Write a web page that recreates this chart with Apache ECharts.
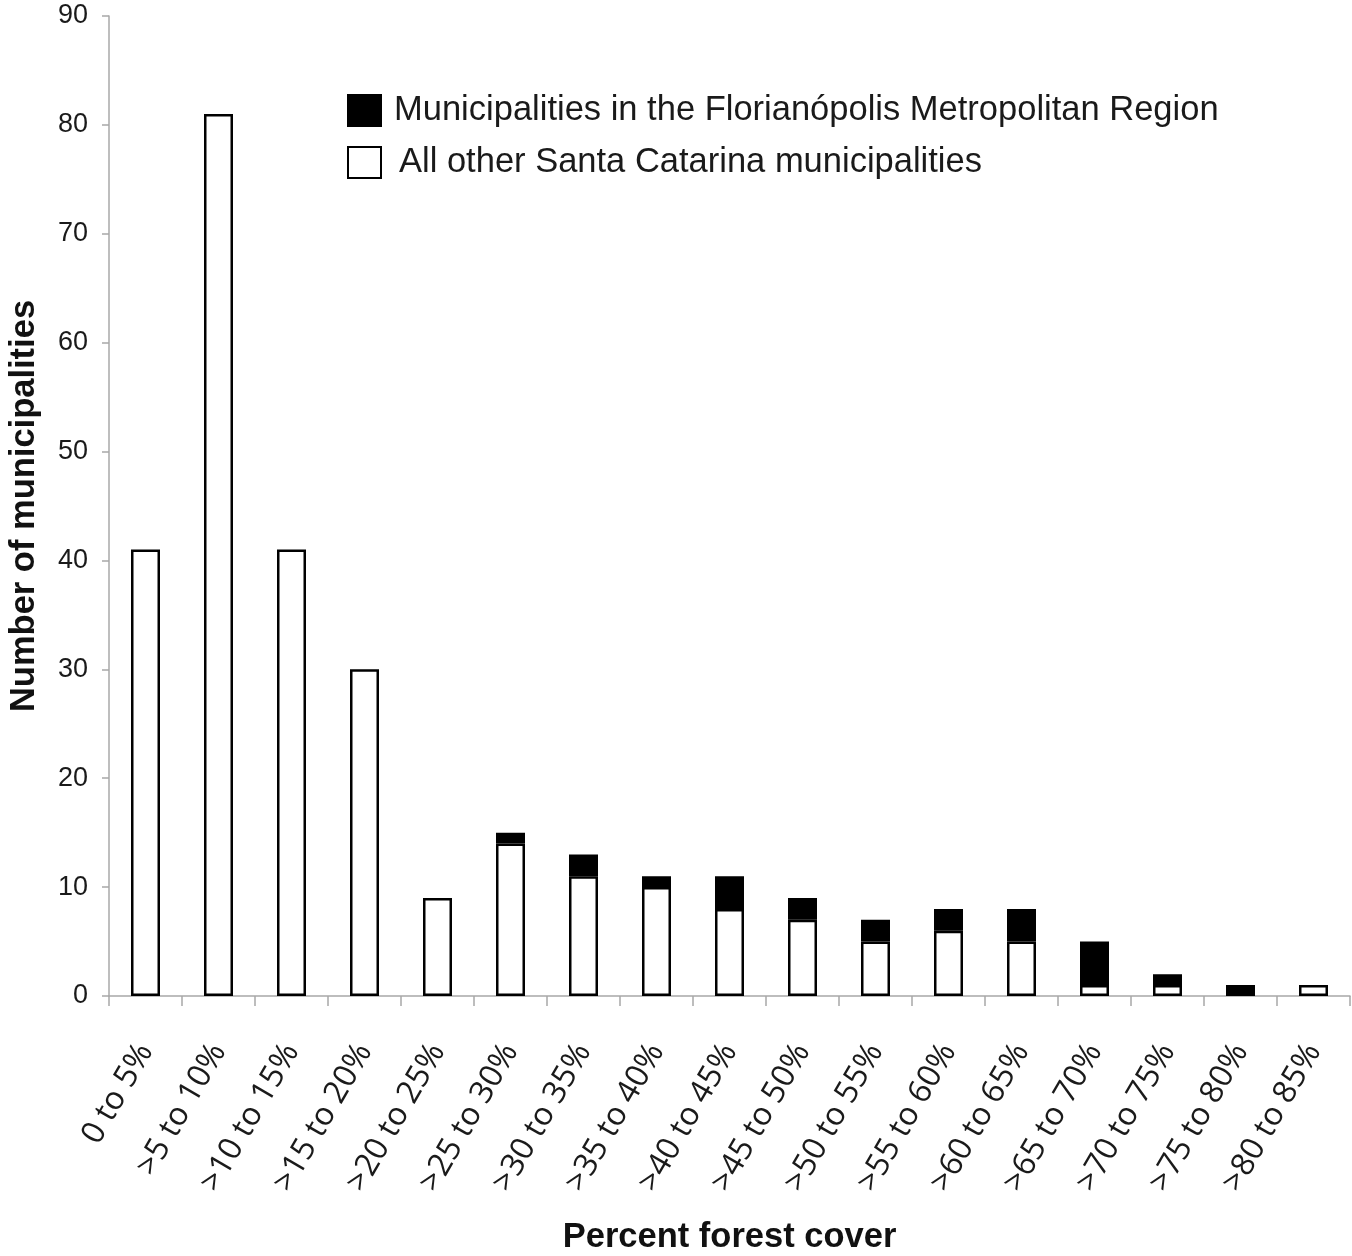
<!DOCTYPE html>
<html>
<head>
<meta charset="utf-8">
<script src="https://cdn.jsdelivr.net/npm/echarts@6/dist/echarts.min.js"></script>
<style>
html,body{margin:0;padding:0;background:#fff;}
#chart{width:1352px;height:1256px;}
</style>
</head>
<body>
<div id="chart"></div>
<script>
const categories = ['0 to 5%', '>5 to 10%', '>10 to 15%', '>15 to 20%', '>20 to 25%', '>25 to 30%', '>30 to 35%', '>35 to 40%', '>40 to 45%', '>45 to 50%', '>50 to 55%', '>55 to 60%', '>60 to 65%', '>65 to 70%', '>70 to 75%', '>75 to 80%', '>80 to 85%'];
const otherValues = [41, 81, 41, 30, 9, 14, 11, 10, 8, 7, 5, 6, 5, 1, 1, '-', 1];
const metroValues = ['-', '-', '-', '-', '-', 1, 2, 1, 3, 2, 2, 2, 3, 4, 1, 1, '-'];
const yTicks = { min: 0, max: 90, interval: 10 };
const metroName = 'Municipalities in the Florianópolis Metropolitan Region';
const otherName = 'All other Santa Catarina municipalities';

const chart = echarts.init(document.getElementById('chart'), null, { renderer: 'canvas' });
const axisGrey = '#a8a8a8';
chart.setOption({
  backgroundColor: '#ffffff',
  animation: false,
  grid: { left: 109, right: 2, top: 16, bottom: 260, containLabel: false, outerBoundsMode: 'none' },
  legend: {
    orient: 'vertical',
    left: 347,
    top: 93,
    padding: 0,
    itemWidth: 33,
    itemHeight: 31,
    itemGap: 17,
    icon: 'rect',
    data: [metroName, otherName],
    formatter: function (name) { return name === otherName ? '{b|' + name + '}' : '{a|' + name + '}'; },
    textStyle: {
      fontFamily: 'Liberation Sans', fontSize: 34.5, color: '#1a1a1a', lineHeight: 31,
      rich: {
        a: { fontFamily: 'Liberation Sans', fontSize: 34.5, color: '#1a1a1a', lineHeight: 31, padding: [0, 0, 0, 8] },
        b: { fontFamily: 'Liberation Sans', fontSize: 34.5, color: '#1a1a1a', lineHeight: 31, padding: [0, 0, 0, 13] }
      }
    }
  },
  xAxis: {
    type: 'category',
    data: categories,
    name: 'Percent forest cover',
    nameLocation: 'middle',
    nameGap: 224,
    nameTextStyle: { fontFamily: 'Liberation Sans', fontWeight: 'bold', fontSize: 34.5, color: '#111' },
    axisLine: { lineStyle: { color: axisGrey, width: 1.5 } },
    axisTick: { show: true, length: 10, lineStyle: { color: axisGrey, width: 1.5 } },
    axisLabel: { rotate: 60, margin: 50, fontFamily: 'Open Sans', fontSize: 32, color: '#1a1a1a', interval: 0 }
  },
  yAxis: {
    type: 'value',
    min: yTicks.min,
    max: yTicks.max,
    interval: yTicks.interval,
    name: 'Number of municipalities',
    nameLocation: 'middle',
    nameGap: 67,
    nameTextStyle: { fontFamily: 'Liberation Sans', fontWeight: 'bold', fontSize: 34.5, color: '#111' },
    axisLine: { show: true, lineStyle: { color: axisGrey, width: 1.5 } },
    axisTick: { show: true, length: 7, lineStyle: { color: axisGrey, width: 1.5 } },
    splitLine: { show: false },
    axisLabel: { margin: 21, fontFamily: 'Liberation Sans', fontSize: 27, color: '#1a1a1a' }
  },
  series: [
    {
      name: otherName,
      type: 'bar',
      stack: 'total',
      barWidth: 29,
      data: otherValues,
      itemStyle: { color: '#ffffff', borderColor: '#000', borderWidth: 2.5 }
    },
    {
      name: metroName,
      type: 'bar',
      stack: 'total',
      barWidth: 29,
      data: metroValues,
      itemStyle: { color: '#000000', borderColor: '#000', borderWidth: 2.5 }
    }
  ]
});
</script>
</body>
</html>
